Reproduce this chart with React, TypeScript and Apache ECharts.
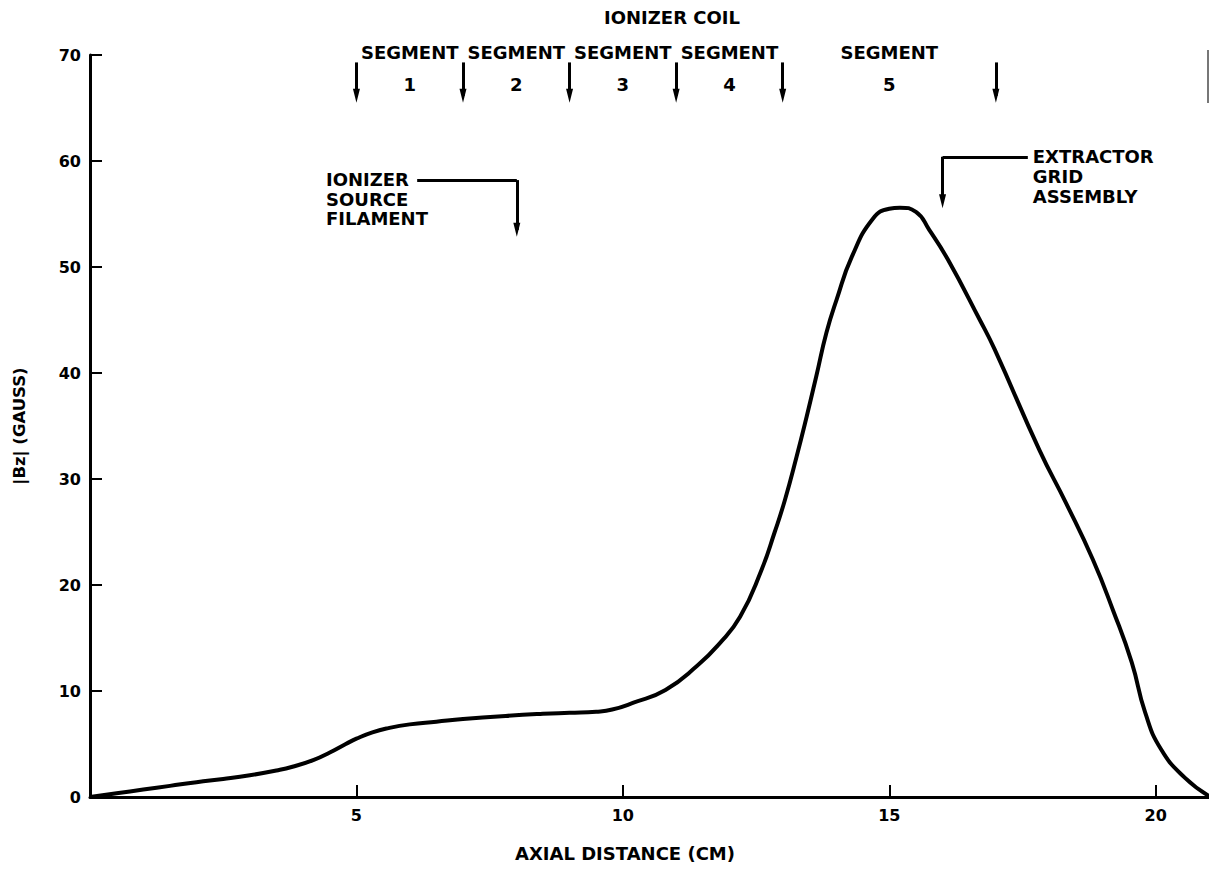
import React, { useEffect, useRef } from "react";
import * as echarts from "echarts";

// Axial distance (cm) and |Bz| (gauss)
const xValues = [0, 0.5, 1.0, 1.5, 2.0, 2.5, 3.0, 3.5, 3.8, 4.2, 4.5, 4.8, 5.0, 5.3, 5.6, 6.0, 6.5, 7.0, 7.8, 8.5, 9.0, 9.5, 9.8, 10.2, 10.8, 11.4, 11.8, 12.2, 12.6, 12.85, 13.04, 13.26, 13.45, 13.63, 13.82, 14.01, 14.3, 14.7, 15.0, 15.2, 15.5, 15.75, 16.1, 16.7, 16.98, 17.82, 18.32, 18.82, 19.2, 19.55, 19.8, 20.1, 20.55, 21.0];
const bzValues = [0, 0.35, 0.7, 1.05, 1.4, 1.7, 2.05, 2.5, 2.85, 3.5, 4.2, 5.0, 5.5, 6.1, 6.5, 6.85, 7.1, 7.35, 7.65, 7.85, 7.95, 8.05, 8.25, 8.9, 10.1, 12.4, 14.4, 17.0, 21.4, 25.0, 28.0, 32.1, 35.9, 39.7, 43.8, 46.9, 51.0, 54.6, 55.5, 55.6, 55.2, 53.5, 50.7, 45.0, 42.2, 32.7, 27.7, 22.4, 17.6, 12.7, 8.0, 4.5, 1.8, 0.1];

const xTickValues = [5, 10, 15, 20];
const yTickValues = [0, 10, 20, 30, 40, 50, 60, 70];

// Ionizer coil segment boundaries (cm) and segment label centres
const segmentBounds = [5, 7, 9, 11, 13, 17];
const segmentCenters = [6, 8, 10, 12, 15];
const segmentNumbers = ["1", "2", "3", "4", "5"];
const segArrowTop = 69.3;
const segArrowTip = 65.5;

// Callouts
const ionizerArrow = { xText: 6.14, x: 8.01, yTop: 58.2, yTip: 52.85 };
const extractorArrow = { x: 16.0, xEnd: 17.6, yTop: 60.4, yTip: 55.55 };

const FONT = "DejaVu Sans";

export default function App() {
  const ref = useRef<HTMLDivElement>(null);

  useEffect(() => {
    if (!ref.current) return;
    const chart = echarts.init(ref.current, null, { renderer: "svg" });
    const data = xValues.map((x, i) => [x, bzValues[i]]);
    const headH = 14;
    const pxPerG = 742 / 70;
    const headOff = headH / 2 / pxPerG;

    const arrowLines: any[] = [];
    segmentBounds.forEach((x) => {
      arrowLines.push([
        { coord: [x, segArrowTop], symbol: "none" },
        { coord: [x, segArrowTip + headOff], symbol: "triangle" },
      ]);
    });
    arrowLines.push([
      { coord: [ionizerArrow.xText, ionizerArrow.yTop], symbol: "none" },
      { coord: [ionizerArrow.x, ionizerArrow.yTop], symbol: "none" },
    ]);
    arrowLines.push([
      { coord: [ionizerArrow.x, ionizerArrow.yTop], symbol: "none" },
      { coord: [ionizerArrow.x, ionizerArrow.yTip + headOff], symbol: "triangle" },
    ]);
    arrowLines.push([
      { coord: [extractorArrow.x, extractorArrow.yTop], symbol: "none" },
      { coord: [extractorArrow.xEnd, extractorArrow.yTop], symbol: "none" },
    ]);
    arrowLines.push([
      { coord: [extractorArrow.x, extractorArrow.yTop], symbol: "none" },
      { coord: [extractorArrow.x, extractorArrow.yTip + headOff], symbol: "triangle" },
    ]);

    const txt = { fontFamily: FONT, fontWeight: "bold", fill: "#000" } as any;

    chart.setOption({
      animation: false,
      backgroundColor: "#fff",
      grid: { left: 90, right: 0, top: 55, bottom: 72, containLabel: false, outerBoundsMode: "none" },
      xAxis: {
        type: "value",
        min: 0,
        max: 21,
        interval: 5,
        axisLine: { show: true, lineStyle: { color: "#000", width: 3 } },
        axisTick: { show: true, inside: true, length: 12, customValues: xTickValues, lineStyle: { color: "#000", width: 2 } },
        axisLabel: { customValues: xTickValues, color: "#000", fontFamily: FONT, fontWeight: "bold", fontSize: 16, margin: 10 },
        splitLine: { show: false },
      },
      yAxis: {
        type: "value",
        min: 0,
        max: 70,
        interval: 10,
        name: "|Bz| (GAUSS)",
        nameLocation: "middle",
        nameGap: 62,
        nameRotate: 90,
        nameTextStyle: { color: "#000", fontFamily: FONT, fontWeight: "bold", fontSize: 16.5 },
        axisLine: { show: true, lineStyle: { color: "#000", width: 3 } },
        axisTick: { show: true, inside: true, length: 12, customValues: yTickValues, lineStyle: { color: "#000", width: 2 } },
        axisLabel: { customValues: yTickValues, color: "#000", fontFamily: FONT, fontWeight: "bold", fontSize: 16, margin: 9 },
        splitLine: { show: false },
      },
      series: [
        {
          type: "line",
          data,
          showSymbol: false,
          smooth: 0.5,
          clip: false,
          lineStyle: { color: "#000", width: 4 },
          markLine: {
            silent: true,
            symbol: ["none", "triangle"],
            symbolSize: [7, headH],
            label: { show: false },
            lineStyle: { color: "#000", width: 3, type: "solid" },
            data: arrowLines,
          },
        },
      ],
    });

    const p = (x: number, y: number) => chart.convertToPixel({ gridIndex: 0 }, [x, y]) as number[];
    const segRowY = p(0, 70.2)[1];
    const numRowY = p(0, 67.2)[1];
    const graphics: any[] = [];
    graphics.push({ type: "text", x: 672, y: 17, style: { ...txt, text: "IONIZER COIL", fontSize: 18, align: "center", verticalAlign: "middle" } });
    segmentCenters.forEach((c, i) => {
      const cx = p(c, 0)[0];
      graphics.push({ type: "text", x: cx, y: segRowY, style: { ...txt, text: "SEGMENT", fontSize: 18, align: "center", verticalAlign: "middle" } });
      graphics.push({ type: "text", x: cx, y: numRowY, style: { ...txt, text: segmentNumbers[i], fontSize: 18, align: "center", verticalAlign: "middle" } });
    });
    const ion = p(ionizerArrow.xText, ionizerArrow.yTop);
    graphics.push({ type: "text", x: 326, y: ion[1] - 10, style: { ...txt, text: "IONIZER\nSOURCE\nFILAMENT", fontSize: 18, lineHeight: 19.5, align: "left", verticalAlign: "top" } });
    const ext = p(extractorArrow.xEnd, extractorArrow.yTop);
    graphics.push({ type: "text", x: ext[0] + 5, y: ext[1] - 10, style: { ...txt, text: "EXTRACTOR\nGRID\nASSEMBLY", fontSize: 18, lineHeight: 20, align: "left", verticalAlign: "top" } });
    graphics.push({ type: "text", x: 625, y: 853, style: { ...txt, text: "AXIAL DISTANCE (CM)", fontSize: 18, align: "center", verticalAlign: "middle" } });
    graphics.push({ type: "line", shape: { x1: 1208, y1: 50, x2: 1208, y2: 103 }, style: { stroke: "#777", lineWidth: 2 } });
    chart.setOption({ graphic: graphics });

    return () => chart.dispose();
  }, []);

  return <div ref={ref} style={{ position: "fixed", left: 0, top: 0, width: 1209, height: 869, background: "#fff" }} />;
}
